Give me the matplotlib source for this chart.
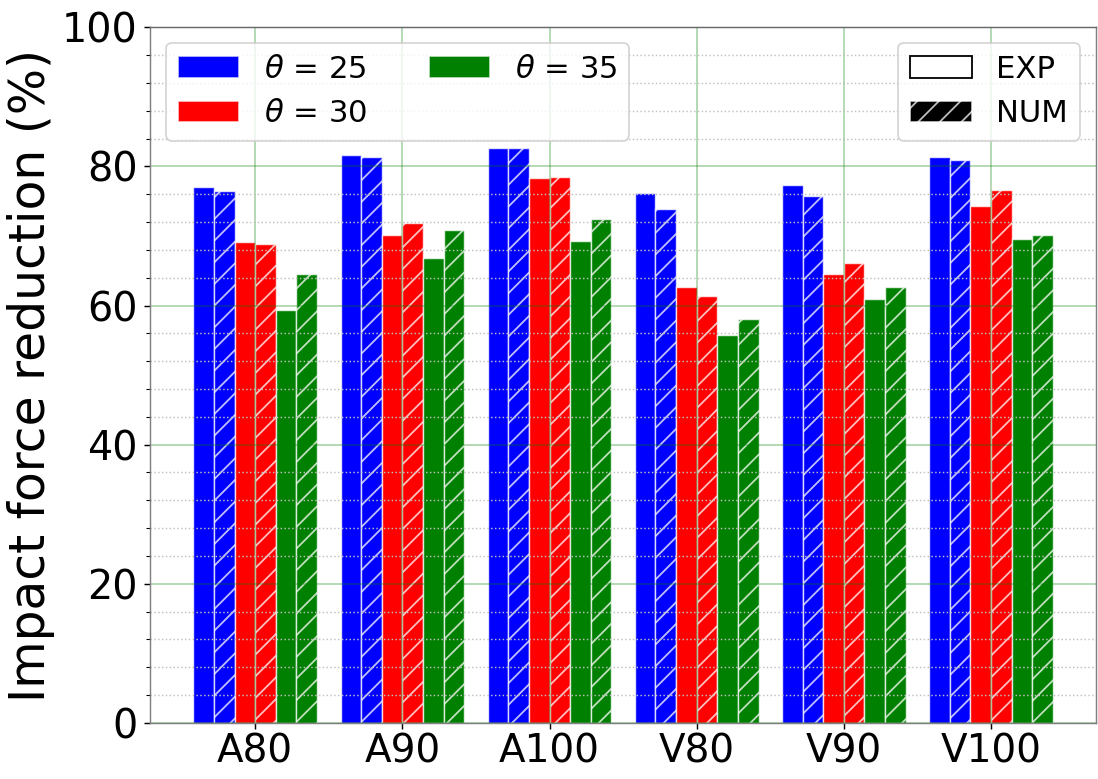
import matplotlib
matplotlib.use('Agg')
import matplotlib.pyplot as plt
from matplotlib.patches import Patch
from matplotlib.ticker import MultipleLocator
import numpy as np

# 数据
categories = ['A80', 'A90', 'A100', 'V80', 'V90', 'V100']
angles = [25, 30, 35]
colors = ['blue', 'red', 'green']

exp_25 = [77.1, 81.7, 82.6, 76.2, 77.3, 81.3]
num_25 = [76.5, 81.3, 82.6, 73.9, 75.8, 80.9]
exp_30 = [69.1, 70.1, 78.3, 62.6, 64.6, 74.3]
num_30 = [68.8, 71.8, 78.5, 61.4, 66.1, 76.6]
exp_35 = [59.3, 66.8, 69.3, 55.8, 61.0, 69.6]
num_35 = [64.5, 70.9, 72.5, 58.0, 62.6, 70.1]

exp_data = [exp_25, exp_30, exp_35]
num_data = [num_25, num_30, num_35]

fig, ax = plt.subplots(figsize=(1098 / 130, 779 / 130), dpi=130)

x = np.arange(len(categories))
w = 0.14
edge = (1, 1, 1, 0.75)

for i in range(3):
    off_exp = (2 * i - 2.5) * w
    off_num = (2 * i - 1.5) * w
    ax.bar(x + off_exp, exp_data[i], w, color=colors[i], edgecolor=edge, linewidth=0.8)
    ax.bar(x + off_num, num_data[i], w, color=colors[i], edgecolor=edge, linewidth=0.8, hatch='//')

ax.set_ylim(0, 100)
ax.set_xticks(x)
ax.set_xticklabels(categories)
ax.tick_params(axis='y', which='major', labelsize=22)
ax.tick_params(axis='x', which='major', labelsize=21.5, pad=2)
ax.yaxis.set_minor_locator(MultipleLocator(4))
ax.set_ylabel('Impact force reduction (%)', fontsize=27)

ax.grid(which='major', color='green', alpha=0.35, linewidth=0.9)
ax.grid(which='minor', axis='y', color='silver', linestyle=':', linewidth=0.8)

for s in ax.spines.values():
    s.set_color('gray')
ax.spines['top'].set_color('dimgray')

h1 = [Patch(facecolor=colors[i], edgecolor=edge, label=r'$\theta$ = %d' % angles[i]) for i in range(3)]
leg1 = ax.legend(handles=h1, loc='upper left', ncol=2, fontsize=17)
ax.add_artist(leg1)

h2 = [Patch(facecolor='white', edgecolor='black', label='EXP'),
      Patch(facecolor='black', edgecolor=(1, 1, 1, 0.75), hatch='//', label='NUM')]
ax.legend(handles=h2, loc='upper right', fontsize=17)

plt.subplots_adjust(left=0.137, right=0.998, top=0.965, bottom=0.072)
plt.savefig('out.png', dpi=130)
